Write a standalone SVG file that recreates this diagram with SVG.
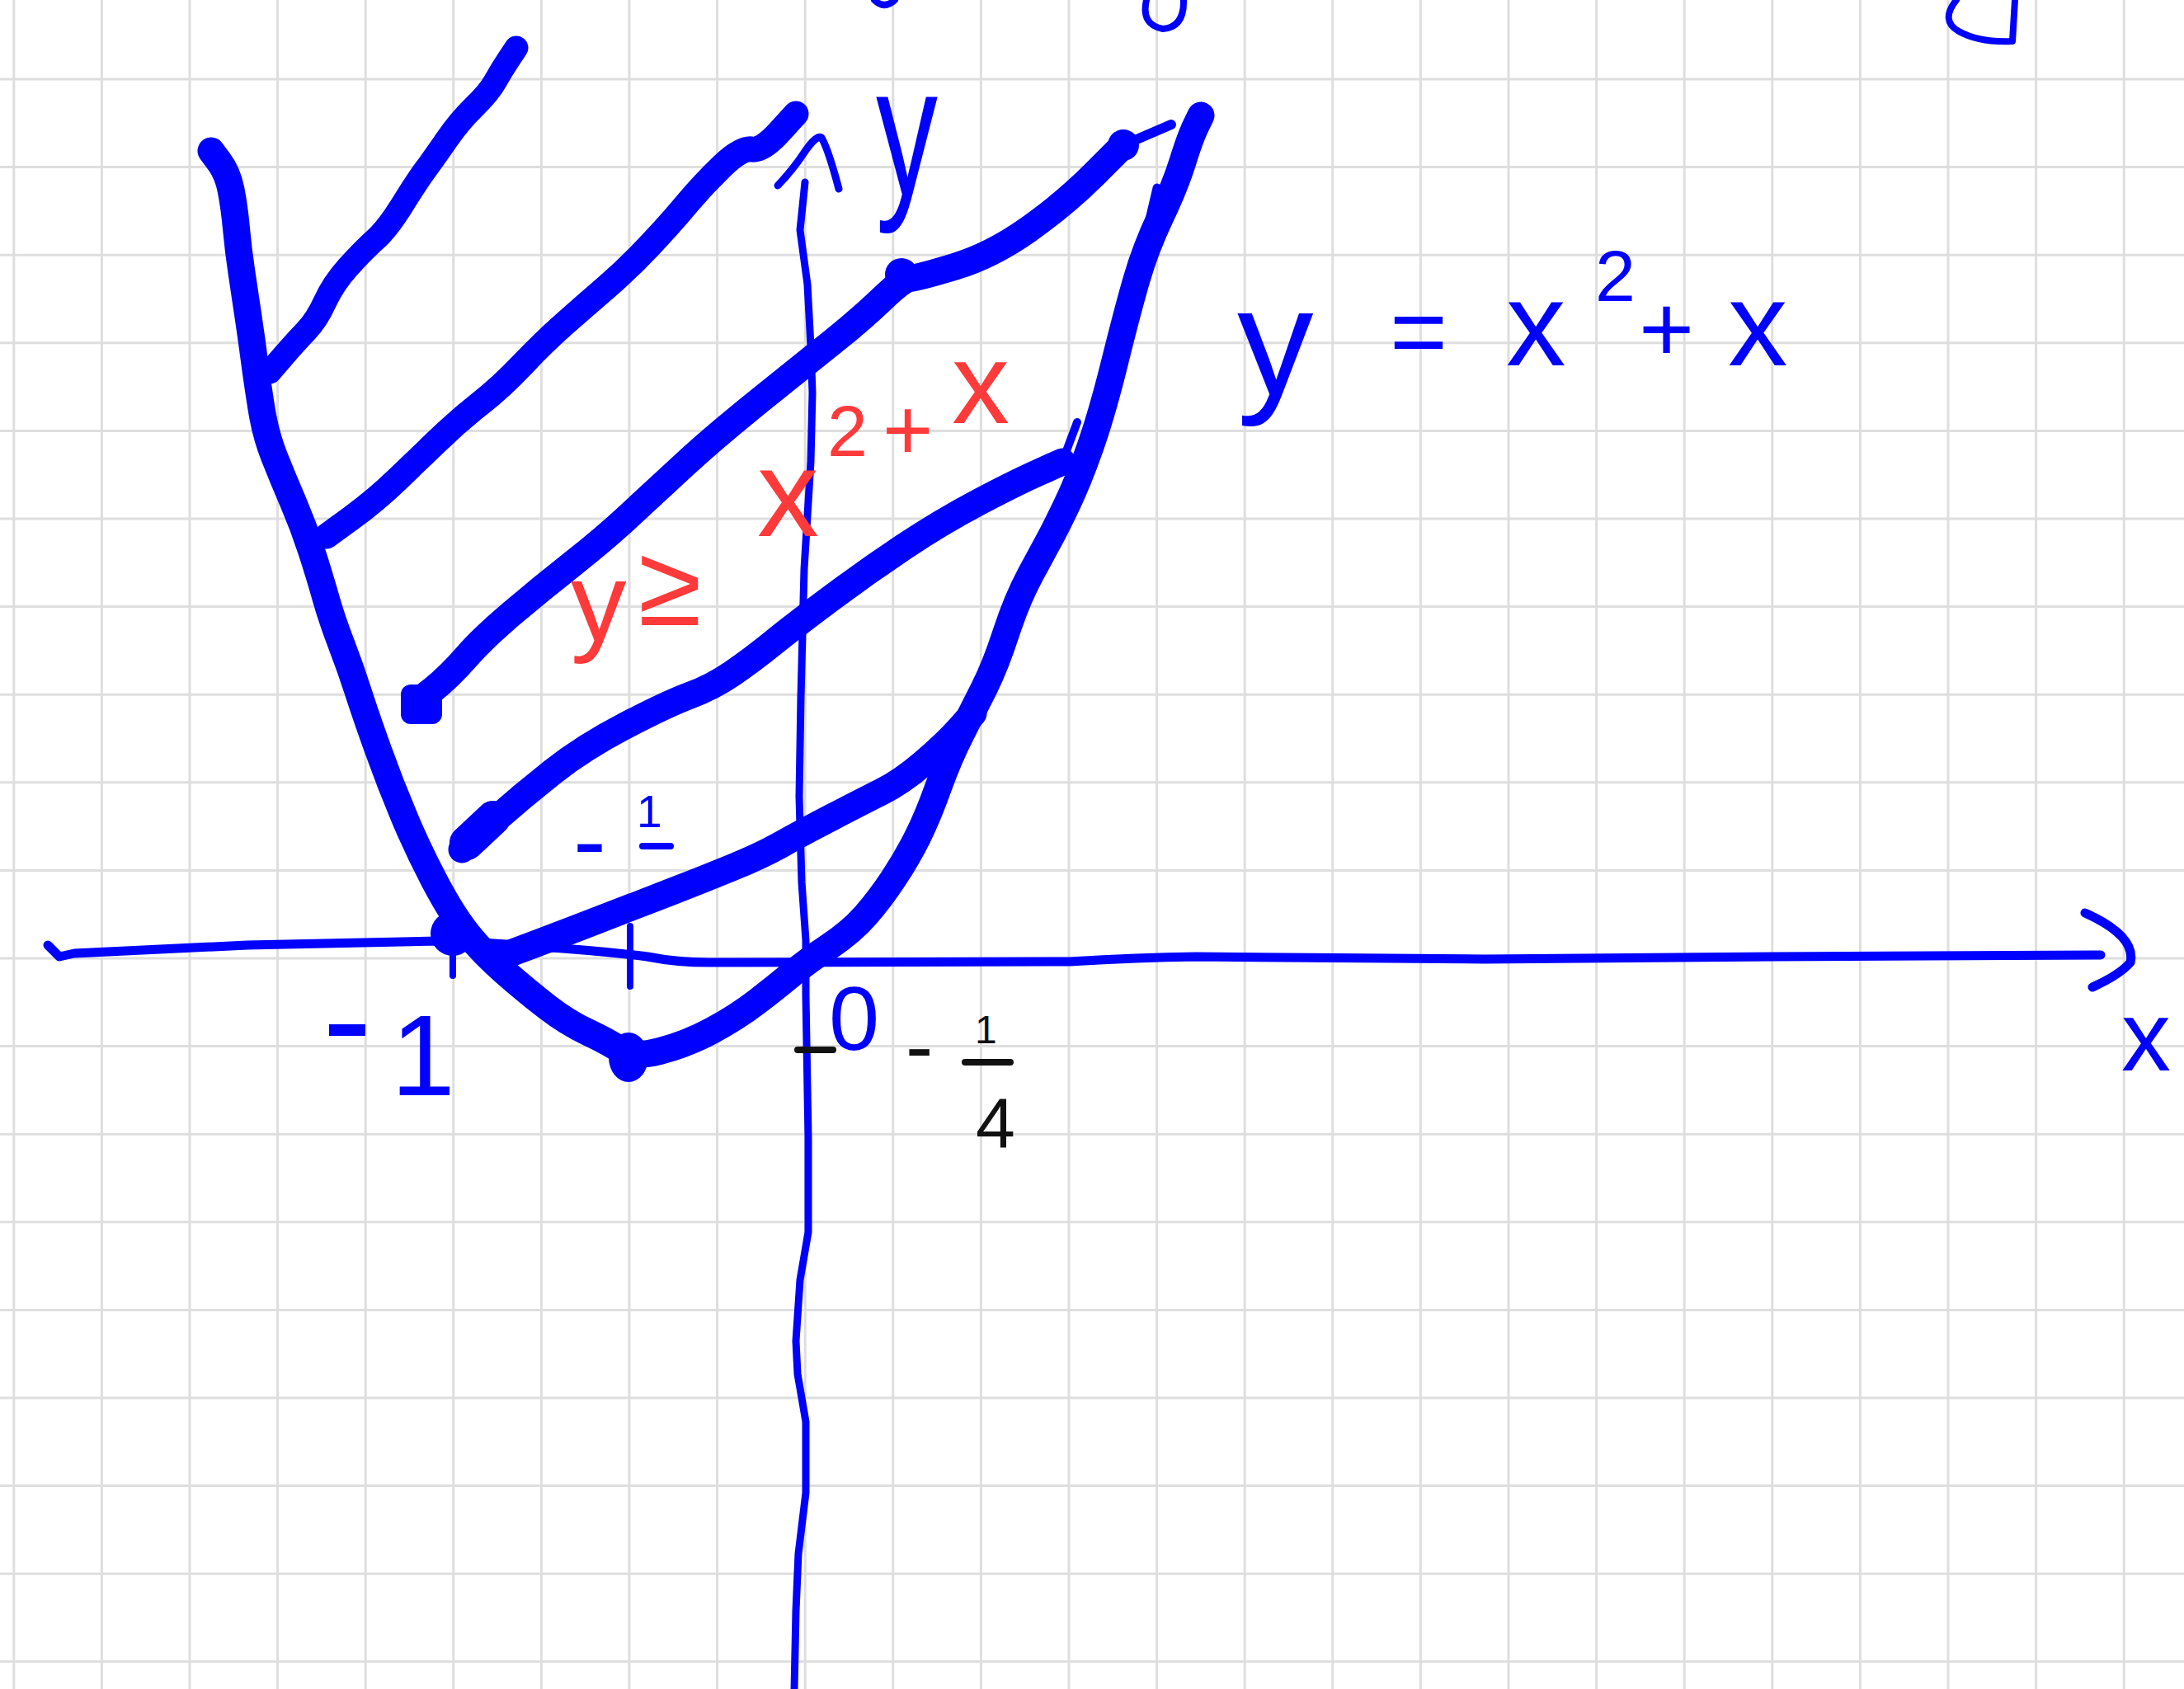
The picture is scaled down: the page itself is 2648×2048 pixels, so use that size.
<svg xmlns="http://www.w3.org/2000/svg" width="2648" height="2048" viewBox="0 0 2648 2048">
<style>
.grid{fill:none;stroke:#dedede;stroke-width:3}
.thick{fill:none;stroke:#0000ff;stroke-linecap:round;stroke-linejoin:round}
.axis{fill:none;stroke:#0000ff;stroke-width:11;stroke-linecap:round;stroke-linejoin:round}
.thin{fill:none;stroke:#0000ff;stroke-width:8;stroke-linecap:round;stroke-linejoin:round}
.blob{fill:#0000ff}
.tb{font-family:"Liberation Sans","DejaVu Sans",sans-serif;fill:#0000ff}
.tr{font-family:"Liberation Sans","DejaVu Sans",sans-serif;fill:#ff3a3a}
.tk{font-family:"Liberation Sans","DejaVu Sans",sans-serif;fill:#111111}
</style>
<rect width="2648" height="2048" fill="#ffffff"/>
<g id="grid">
<path class="grid" d="M16.8,0V2048M123.4,0V2048M230,0V2048M336.6,0V2048M443.2,0V2048M549.8,0V2048M656.4,0V2048M763,0V2048M869.6,0V2048M976.2,0V2048M1082.8,0V2048M1189.4,0V2048M1296,0V2048M1402.6,0V2048M1509.2,0V2048M1615.8,0V2048M1722.4,0V2048M1829,0V2048M1935.6,0V2048M2042.2,0V2048M2148.8,0V2048M2255.4,0V2048M2362,0V2048M2468.6,0V2048M2575.2,0V2048"/>
<path class="grid" d="M0,96H2648M0,202.6H2648M0,309.2H2648M0,415.8H2648M0,522.4H2648M0,629H2648M0,735.6H2648M0,842.2H2648M0,948.8H2648M0,1055.4H2648M0,1162H2648M0,1268.6H2648M0,1375.2H2648M0,1481.8H2648M0,1588.4H2648M0,1695H2648M0,1801.6H2648M0,1908.2H2648M0,2014.8H2648"/>
</g>
<g id="top-fragments">
<path class="thin" d="M1060,0 Q1072,12 1085,0"/>
<path class="thin" d="M1390,0 Q1383,30 1410,35 Q1436,33 1435,0"/>
<path class="thin" d="M2372,0 Q2352,25 2375,38 Q2400,52 2440,50 L2443,0"/>
</g>
<g id="connectors">
<g id="x-axis">
<path class="axis" d="M58,1146 L72,1160 L90,1156 L300,1146 L531,1141 Q600,1143 650,1148 Q720,1152 785,1160 Q820,1167 860,1167 L1297,1166 Q1380,1161 1450,1160 L1800,1163 L2150,1160 L2547,1158"/>
<path class="axis" d="M2528,1107 Q2590,1135 2583,1167 Q2570,1182 2537,1197"/>
<path class="thin" d="M549,1130 L549,1183"/>
<path class="thin" d="M764,1123 L764,1196"/>
</g>
<g id="y-axis">
<path class="axis" style="stroke-width:9" d="M976,221 L970,279 L979,345 L983,420 L985,476 L983,560 L975,690 L971,846 L969,966 L972,1070 L977,1140 L977,1207 L980,1380 L980,1494 L970,1552 L965,1626 L967,1666 L977,1724 L977,1810 L968,1884 L965,1953 L963,2050"/>
<path class="axis" style="stroke-width:9" d="M943,225 Q962,205 975,185 Q990,163 996,167 Q1004,180 1017,229"/>
<path fill="none" stroke="#111111" stroke-width="8" stroke-linecap="round" d="M967,1273 L1010,1273"/>
</g>
</g>
<g id="parabola">
<path class="thick" stroke-width="33" d="M256,183 L266,196.5 Q276,210 280,230 Q284,250 286.5,277 Q289,304 293,330.5 Q297,357 301,384 Q305,411 308.5,437.5 Q312,464 317,495.5 Q322,527 332.5,553.5 Q343,580 355.5,609 Q368,638 378,669 Q388,700 395,725 Q402,750 413.5,780 Q425,810 434,838 Q443,866 458,908 Q473,950 490.5,991.5 Q508,1033 528.5,1071.5 Q549,1110 567.5,1133 Q586,1156 613,1179.5 Q640,1203 664,1221.5 Q688,1240 712.5,1251.5 Q737,1263 752,1273 Q767,1283 800,1274.5 Q833,1266 863.5,1249.5 Q894,1233 918,1214.5 Q942,1196 960,1181 Q978,1166 1005,1148 Q1032,1130 1049.5,1110 Q1067,1090 1083.5,1065 Q1100,1040 1112.5,1015 Q1125,990 1137.5,955 Q1150,920 1165,890.5 Q1180,861 1193.5,834 Q1207,807 1220,767 Q1233,727 1250,695.5 Q1267,664 1273.5,652 Q1280,640 1293.5,612 Q1307,584 1321.5,543 Q1336,502 1351.5,439.5 Q1367,377 1378,339 Q1389,301 1407,263 Q1425,225 1434,196 Q1443,167 1449.5,153.5 L1456,140"/>
<path class="thick" stroke-width="11" d="M1403,228 L1395,262 L1389,300"/>
<circle class="blob" cx="549" cy="1132" r="27"/>
<ellipse class="blob" cx="762" cy="1282" rx="24" ry="30"/>
</g>
<g id="hatching">
<path class="thick" stroke-width="29" d="M327,451 L342.5,433 Q358,415 371,401.5 Q384,388 394,366 Q404,344 422,324 Q440,304 455,290.5 Q470,277 488,248 Q506,219 516,205.5 Q526,192 541.5,169.5 Q557,147 575,129.5 Q593,112 600.5,98.5 Q608,85 617,71.5 L626,58"/>
<path class="thick" stroke-width="31" d="M396,650 L425.5,628.5 Q455,607 480.5,582.5 Q506,558 531.5,533.5 Q557,509 582.5,489 Q608,469 633.5,442 Q659,415 684.5,392.5 Q710,370 735.5,348 Q761,326 786.5,299 Q812,272 832.5,247.5 Q853,223 876,201 Q899,179 911.5,181 Q924,183 944.5,160.5 L965,138"/>
<path class="thick" stroke-width="33" d="M504,853 L524.5,836.5 Q545,820 565.5,796.5 Q586,773 621.5,743 Q657,713 695,683 Q733,653 761.5,626.5 Q790,600 828.5,564.5 Q867,529 923,484 Q979,439 1012,412.5 Q1045,386 1070,362 Q1095,338 1103.5,337.5 Q1112,337 1157,323.5 Q1202,310 1246.5,278.5 Q1291,247 1326.5,211.5 L1362,176"/>
<rect class="blob" x="486" y="830" width="50" height="48" rx="12"/>
<circle class="blob" cx="1093" cy="333" r="20"/>
<circle class="blob" cx="1362" cy="176" r="19"/>
<path class="thick" stroke-width="12" d="M1362,176 L1420,151"/>
<path class="thick" stroke-width="33" d="M560,1030 L596,998 Q632,966 670,936 Q708,906 759,879.5 Q810,853 837,843 Q864,833 888,816.5 Q912,800 938,779 Q964,758 1007.5,725.5 Q1051,693 1096,663 Q1141,633 1185.5,609.5 Q1230,586 1259,573 L1288,560"/>
<path class="thick" stroke-width="42" d="M566,1022 L598,992"/>
<path class="thick" stroke-width="10" d="M1288,560 L1306,512"/>
<path class="thick" stroke-width="33" d="M616,1157 L652,1143.5 Q688,1130 730.5,1113.5 Q773,1097 812,1082 Q851,1067 887.5,1052 Q924,1037 948,1023.5 Q972,1010 1008.5,991 Q1045,972 1069,960 Q1093,948 1120,925 Q1147,902 1163.5,883.5 L1180,865"/>
</g>
<g id="label-y-axis">
<text class="tb" font-size="150" transform="translate(1062,236) scale(1,1.5)">y</text>
</g>
<g id="label-x-axis">
<text class="tb" font-size="120" x="2572" y="1298">x</text>
</g>
<g id="label-equation">
<text class="tb"><tspan font-size="185" x="1500" y="478">y</tspan><tspan font-size="120" x="1685" y="443">=</tspan><tspan font-size="145" x="1826" y="443">x</tspan><tspan font-size="88" x="1934" y="365">2</tspan><tspan font-size="115" x="1987" y="438">+</tspan><tspan font-size="145" x="2095" y="443">x</tspan></text>
</g>
<g id="label-inequality">
<text class="tr"><tspan font-size="135" x="692" y="777">y</tspan><tspan font-size="140" x="774" y="758">≥</tspan><tspan font-size="150" x="918" y="650">x</tspan><tspan font-size="88" x="1003" y="553">2</tspan><tspan font-size="105" x="1070" y="557">+</tspan><tspan font-size="140" x="1154" y="513">x</tspan></text>
</g>
<g id="label-minus-one">
<text class="tb"><tspan font-size="180" x="391" y="1297">-</tspan><tspan font-size="140" x="474" y="1328">1</tspan></text>
</g>
<g id="label-minus-half">
<text class="tb"><tspan font-size="120" x="695" y="1060">-</tspan><tspan font-size="55" x="772" y="1003">1</tspan></text>
<path class="thin" stroke-width="7" d="M779,1026 L813,1026"/>
</g>
<g id="label-zero">
<text class="tb" font-size="110" x="1005" y="1273">0</text>
</g>
<g id="label-minus-quarter">
<text class="tk"><tspan font-size="100" x="1098" y="1303">-</tspan><tspan font-size="48" x="1182" y="1265">1</tspan><tspan font-size="86" x="1183" y="1391">4</tspan></text>
<path fill="none" stroke="#111111" stroke-width="8" stroke-linecap="round" d="M1170,1288 L1225,1288"/>
</g>
</svg>
